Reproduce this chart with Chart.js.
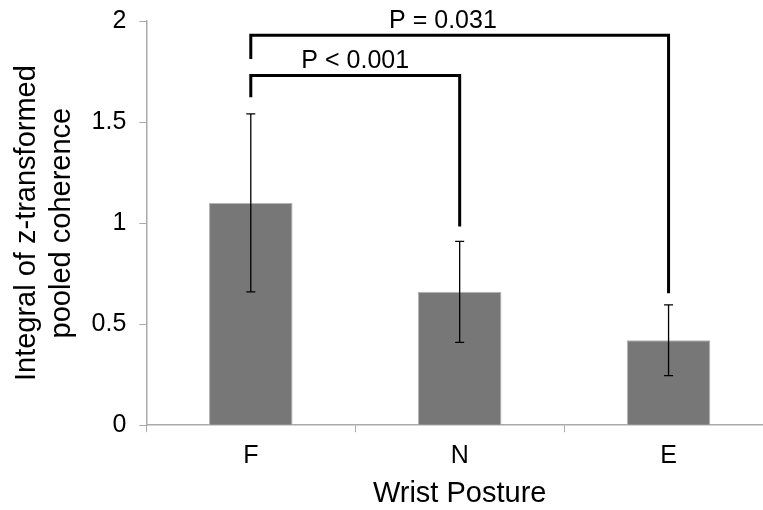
<!DOCTYPE html>
<html>
<head>
<meta charset="utf-8">
<script src="https://cdn.jsdelivr.net/npm/chart.js@4/dist/chart.umd.min.js"></script>
<style>
  html, body { margin: 0; padding: 0; background: #fff; overflow: hidden; }
  #wrap { position: relative; top: -7px; width: 773px; height: 517px; }
</style>
</head>
<body>
<div id="wrap"><canvas id="chart"></canvas></div>
<script>
const categories = ['F', 'N', 'E'];
const means = [1.10, 0.66, 0.42];
const errors = [0.44, 0.25, 0.175];
const yTicks = [0, 0.5, 1, 1.5, 2];

// significance brackets: from bar, to bar, height, leg ends, label
const pairFrom = [0, 0];
const pairTo = [1, 2];
const pairLevel = [1.73, 1.93];
const pairLeftEnd = [1.63, 1.82];
const pairRightEnd = [0.99, 0.66];
const pairLabels = ['P < 0.001', 'P = 0.031'];
const pairLabelAt = [0.5, 0.46];

const FONT = "'Liberation Sans', Arial, sans-serif";

const annotations = {
  id: 'annotations',
  afterDraw(chart) {
    const ctx = chart.ctx;
    const x = chart.scales.x;
    const y = chart.scales.y;
    ctx.save();
    // error bars
    ctx.strokeStyle = '#000';
    ctx.lineWidth = 1.3;
    means.forEach((m, i) => {
      const cx = x.getPixelForValue(i);
      const top = y.getPixelForValue(m + errors[i]);
      const bot = y.getPixelForValue(m - errors[i]);
      ctx.beginPath();
      ctx.moveTo(cx, top); ctx.lineTo(cx, bot);
      ctx.moveTo(cx - 4.5, top); ctx.lineTo(cx + 4.5, top);
      ctx.moveTo(cx - 4.5, bot); ctx.lineTo(cx + 4.5, bot);
      ctx.stroke();
    });
    // brackets
    ctx.lineWidth = 3;
    ctx.lineCap = 'square';
    ctx.fillStyle = '#000';
    ctx.font = '25px ' + FONT;
    ctx.textAlign = 'center';
    ctx.textBaseline = 'bottom';
    pairFrom.forEach((f, k) => {
      const x1 = x.getPixelForValue(f);
      const x2 = x.getPixelForValue(pairTo[k]);
      const yl = y.getPixelForValue(pairLevel[k]);
      ctx.beginPath();
      ctx.moveTo(x1, y.getPixelForValue(pairLeftEnd[k]));
      ctx.lineTo(x1, yl);
      ctx.lineTo(x2, yl);
      ctx.lineTo(x2, y.getPixelForValue(pairRightEnd[k]));
      ctx.stroke();
      ctx.fillText(pairLabels[k], x1 + (x2 - x1) * pairLabelAt[k], yl - 2);
    });
    ctx.restore();
  }
};

new Chart(document.getElementById('chart'), {
  type: 'bar',
  data: {
    labels: categories,
    datasets: [{
      data: means,
      backgroundColor: '#777777',
      borderColor: '#b5b5b5',
      borderWidth: 1,
      barPercentage: 0.4,
      categoryPercentage: 1.0
    }]
  },
  options: {
    responsive: true,
    maintainAspectRatio: false,
    animation: false,
    layout: {
      autoPadding: false,
      padding: { top: 21, right: 0, left: 10, bottom: -1 }
    },
    plugins: {
      legend: { display: false },
      tooltip: { enabled: false }
    },
    scales: {
      x: {
        grid: {
          display: true,
          drawOnChartArea: false,
          color: '#aaaaaa',
          tickLength: 7
        },
        border: { color: '#aaaaaa', width: 1.5 },
        ticks: { color: '#000', font: { family: FONT, size: 25 }, padding: 9 },
        title: {
          display: true,
          text: 'Wrist Posture',
          color: '#000',
          font: { family: FONT, size: 29 },
          padding: { top: -4, bottom: 0 }
        }
      },
      y: {
        min: 0,
        max: 2,
        afterBuildTicks(axis) {
          axis.ticks = yTicks.map(v => ({ value: v }));
        },
        grid: {
          display: true,
          drawOnChartArea: false,
          color: '#aaaaaa',
          tickLength: 7
        },
        border: { color: '#aaaaaa', width: 1.5 },
        ticks: {
          color: '#000',
          font: { family: FONT, size: 25 },
          padding: 13,
          callback: v => String(v)
        },
        title: {
          display: true,
          text: ['Integral of z-transformed', 'pooled coherence'],
          color: '#000',
          font: { family: FONT, size: 29, lineHeight: 1.2 },
          padding: { top: 0, bottom: -1 }
        }
      }
    }
  },
  plugins: [annotations]
});
</script>
</body>
</html>
